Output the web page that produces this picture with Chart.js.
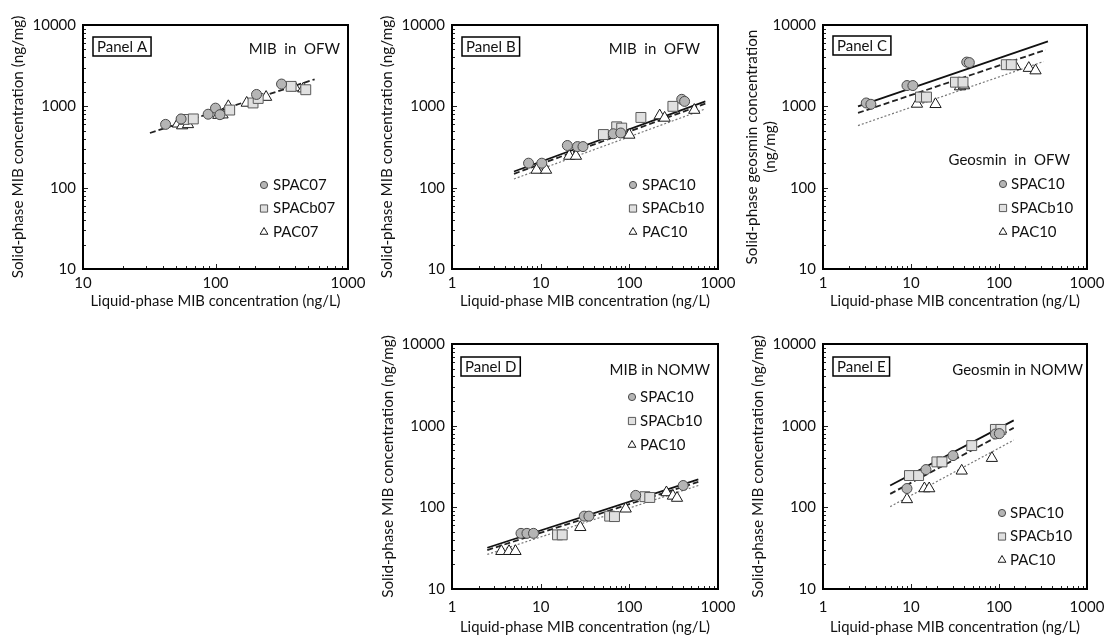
<!DOCTYPE html>
<html><head><meta charset="utf-8">
<script src="https://cdn.jsdelivr.net/npm/chart.js@4.4.1/dist/chart.umd.min.js"></script>
<style>
html,body{margin:0;padding:0;background:#fff;}
body{width:1104px;height:637px;overflow:hidden;position:relative;}
canvas{position:absolute;}
</style></head><body>
<canvas id="cA"></canvas><canvas id="cB"></canvas><canvas id="cC"></canvas><canvas id="cD"></canvas><canvas id="cE"></canvas>
<script>
// ---------- DATA ----------
const xTitle = 'Liquid-phase MIB concentration (ng/L)';
const yTitleMIB = 'Solid-phase MIB concentration (ng/mg)';
const yTitleGeo = ['Solid-phase geosmin concentration', '(ng/mg)'];

// Panel A  (MIB in OFW)
const A_SPAC07  = [[42,600],[55,700],[88,800],[100,950],[108,790],[204,1400],[315,1880]];
const A_SPACb07 = [[58,690],[68,700],[128,900],[192,1100],[210,1250],[372,1760],[480,1600]];
const A_PAC07   = [[52,610],[56,580],[62,600],[105,780],[113,790],[125,1000],[172,1100],[241,1300],[398,1700],[460,1650]];
const A_fit     = [[32,470],[560,2150]];

// Panel B  (MIB in OFW)
const B_SPAC10  = [[7.3,200],[10.3,200],[20,330],[26,320],[30,320],[66,460],[80,470],[390,1220],[420,1150]];
const B_SPACb10 = [[51,450],[72,560],[82,540],[135,730],[310,1000]];
const B_PAC10   = [[9,165],[11.5,165],[21,245],[25,245],[88,455],[100,445],[220,770],[250,720],[540,900]];
const B_fitSPAC10  = [[5,158],[720,1150]];
const B_fitSPACb10 = [[5,148],[720,1080]];
const B_fitPAC10   = [[5,128],[720,930]];

// Panel C  (Geosmin in OFW)
const C_SPAC10  = [[3.1,1100],[3.5,1060],[9,1800],[10.5,1800],[43,3500],[46,3450]];
const C_SPACb10 = [[12.8,1300],[15,1300],[32,1980],[39,1980],[121,3250],[138,3250]];
const C_PAC10   = [[11.7,1070],[19,1060],[36,1750],[40,1800],[153,3100],[218,2950],[260,2750]];
const C_fitSPAC10  = [[2.5,1000],[360,6300]];
const C_fitSPACb10 = [[2.5,830],[340,4950]];
const C_fitPAC10   = [[2.5,580],[320,3550]];

// Panel D  (MIB in NOMW)
const D_SPAC10  = [[6,48],[7,48],[8.3,48],[31,78],[35,78],[118,140],[405,185]];
const D_SPACb10 = [[15.5,46],[17.5,46],[60,78],[68,77],[150,135],[170,132]];
const D_PAC10   = [[3.6,29],[4.4,29],[5.2,29],[28,57],[91,96],[262,152],[310,138],[345,130]];
const D_fitSPAC10  = [[2.5,32],[600,220]];
const D_fitSPACb10 = [[2.5,30],[600,205]];
const D_fitPAC10   = [[2.5,26.5],[600,185]];

// Panel E  (Geosmin in NOMW)
const E_SPAC10  = [[9,170],[14.8,290],[30,430],[91,790],[101,800]];
const E_SPACb10 = [[9.6,245],[12.2,245],[19.7,360],[22.5,360],[49,570],[91,900],[105,900]];
const E_PAC10   = [[9,125],[14.2,170],[16.1,170],[37.7,280],[83,400]];
const E_fitSPAC10  = [[5.8,185],[147,1160]];
const E_fitSPACb10 = [[5.8,146],[147,940]];
const E_fitPAC10   = [[5.8,102],[147,665]];

// ---------- STYLE ----------
const FONT = 'Lato, "Liberation Sans", "DejaVu Sans", sans-serif';
Chart.defaults.font.family = FONT;
Chart.defaults.color = '#111';

const MK = {
  c: {pointStyle:'circle',   radius:5,   bg:'#b5b5b5', bd:'#4a4a4a'},
  s: {pointStyle:'rect',     radius:7,   bg:'#e0e0e0', bd:'#5a5a5a'},
  t: {pointStyle:'triangle', radius:6.5, bg:'#ffffff', bd:'#1a1a1a'}
};
const LN = {
  solid:  {color:'#111', width:1.8, dash:[]},
  dashed: {color:'#222', width:1.8, dash:[6,3]},
  dotted: {color:'#777', width:1.2, dash:[2,2]}
};

const pts = a => a.map(p => ({x:p[0], y:p[1]}));
const isDecade = v => { const l = Math.log10(v); return Math.abs(l - Math.round(l)) < 1e-6; };

function drawMarker(ctx, kind, x, y, small) {
  const m = MK[kind];
  ctx.save();
  ctx.lineWidth = 1;
  ctx.fillStyle = m.bg; ctx.strokeStyle = m.bd;
  ctx.beginPath();
  if (kind === 'c') { ctx.arc(x, y, small ? 3.6 : m.radius, 0, Math.PI*2); }
  else if (kind === 's') { const h = small ? 3.6 : 5; ctx.rect(x-h, y-h, 2*h, 2*h); }
  else { const r = small ? 4.5 : m.radius; ctx.moveTo(x, y-r); ctx.lineTo(x+r*0.866, y+r*0.5); ctx.lineTo(x-r*0.866, y+r*0.5); ctx.closePath(); }
  ctx.fill(); ctx.stroke();
  ctx.restore();
}

const decor = {
  id: 'decor',
  afterDatasetsDraw(chart, args, o) {
    const ctx = chart.ctx, ca = chart.chartArea;
    const xs = chart.scales.x, ys = chart.scales.y;
    ctx.save();
    // inward tick marks
    ctx.strokeStyle = '#222'; ctx.lineWidth = 1;
    xs.ticks.forEach(t => {
      const px = Math.round(xs.getPixelForValue(t.value)) + 0.5;
      const len = isDecade(t.value) ? 5 : 3;
      ctx.beginPath(); ctx.moveTo(px, ca.bottom); ctx.lineTo(px, ca.bottom - len); ctx.stroke();
    });
    ys.ticks.forEach(t => {
      const py = Math.round(ys.getPixelForValue(t.value)) + 0.5;
      const len = isDecade(t.value) ? 5 : 3;
      ctx.beginPath(); ctx.moveTo(ca.left, py); ctx.lineTo(ca.left + len, py); ctx.stroke();
    });
    // frame
    ctx.strokeStyle = '#000'; ctx.lineWidth = 2;
    ctx.strokeRect(ca.left, ca.top, ca.right - ca.left, ca.bottom - ca.top);
    // panel label box
    ctx.font = '15px ' + FONT; ctx.fillStyle = '#111'; ctx.textBaseline = 'middle';
    const tw = ctx.measureText(o.panel).width;
    const bx = ca.left + o.boxDx, by = ca.top + o.boxDy;
    ctx.lineWidth = 1.5;
    ctx.strokeRect(bx, by, tw + 8, 19);
    ctx.textAlign = 'left';
    ctx.fillText(o.panel, bx + 4, by + 10);
    // note text
    ctx.textAlign = 'right';
    ctx.fillText(o.note, ca.right - o.noteDx, ca.top + o.noteDy);
    // legend
    ctx.textAlign = 'left';
    o.legend.forEach((it, i) => {
      const y = ca.top + o.legDy + i * o.legStep;
      drawMarker(ctx, it[0], ca.right - o.legMx, y, true);
      ctx.fillStyle = '#111';
      ctx.fillText(it[1], ca.right - o.legTx, y);
    });
    ctx.restore();
  }
};

function scatterDs(arr, kind) {
  const m = MK[kind];
  return {data: pts(arr), pointStyle: m.pointStyle, pointRadius: m.radius,
          pointBackgroundColor: m.bg, pointBorderColor: m.bd, pointBorderWidth: 1,
          showLine: false, order: 1};
}
function lineDs(arr, style) {
  const s = LN[style];
  return {data: pts(arr), showLine: true, pointRadius: 0, borderColor: s.color,
          borderWidth: s.width, borderDash: s.dash, fill: false, order: 5};
}

function makePanel(id, g, xMin, yTitle, datasets, deco) {
  const cv = document.getElementById(id);
  const w = (g.r - g.l) + 140, h = 40 + (g.b - g.t) + g.hx + 5;
  cv.width = w; cv.height = h;
  cv.style.left = (g.l - 100) + 'px'; cv.style.top = (g.t - 40) + 'px';
  cv.style.width = w + 'px'; cv.style.height = h + 'px';
  new Chart(cv, {
    type: 'scatter',
    data: {datasets},
    options: {
      responsive: false, animation: false, devicePixelRatio: 1,
      layout: {padding: {left: 100 - g.wy, top: 40, right: 40, bottom: 5}},
      plugins: {legend: {display: false}, tooltip: {enabled: false}, decor: deco},
      scales: {
        x: {type: 'logarithmic', min: xMin, max: 1000,
            grid: {display: false, drawTicks: false}, border: {display: false},
            ticks: {autoSkip: false, maxRotation: 0, padding: g.xpad, font: {size: 15},
                    callback: v => isDecade(v) ? String(Math.round(v)) : ''},
            title: {display: true, text: xTitle, font: {size: 14.8}, padding: {top: 0, bottom: 0}},
            afterFit: s => { s.height = g.hx; }},
        y: {type: 'logarithmic', min: 10, max: 10000,
            grid: {display: false, drawTicks: false}, border: {display: false},
            ticks: {autoSkip: false, padding: 7, font: {size: 15},
                    callback: v => isDecade(v) ? String(Math.round(v)) : ''},
            title: {display: true, text: yTitle, font: {size: 15.3}, padding: {top: 3, bottom: 0}},
            afterFit: s => { s.width = g.wy; }}
      }
    },
    plugins: [decor]
  });
}

makePanel('cA', {l:83, t:25, r:348, b:269, wy:77, hx:41, xpad:5}, 10, yTitleMIB,
  [scatterDs(A_SPAC07,'c'), scatterDs(A_SPACb07,'s'), scatterDs(A_PAC07,'t'), lineDs(A_fit,'dashed')],
  {panel:'Panel A', boxDx:10, boxDy:12, note:'MIB  in  OFW', noteDx:8, noteDy:24,
   legend:[['c','SPAC07'],['s','SPACb07'],['t','PAC07']], legMx:84, legTx:75, legDy:160, legStep:23.5});

makePanel('cB', {l:452, t:25, r:718, b:269, wy:77, hx:41, xpad:5}, 1, yTitleMIB,
  [scatterDs(B_SPAC10,'c'), scatterDs(B_SPACb10,'s'), scatterDs(B_PAC10,'t'),
   lineDs(B_fitSPAC10,'solid'), lineDs(B_fitSPACb10,'dashed'), lineDs(B_fitPAC10,'dotted')],
  {panel:'Panel B', boxDx:10, boxDy:12, note:'MIB  in  OFW', noteDx:18, noteDy:24,
   legend:[['c','SPAC10'],['s','SPACb10'],['t','PAC10']], legMx:85, legTx:76, legDy:160, legStep:23.5});

makePanel('cC', {l:823, t:25, r:1087, b:269, wy:83, hx:41, xpad:5}, 1, yTitleGeo,
  [scatterDs(C_SPAC10,'c'), scatterDs(C_SPACb10,'s'), scatterDs(C_PAC10,'t'),
   lineDs(C_fitSPAC10,'solid'), lineDs(C_fitSPACb10,'dashed'), lineDs(C_fitPAC10,'dotted')],
  {panel:'Panel C', boxDx:10, boxDy:11, note:'Geosmin  in  OFW', noteDx:17, noteDy:135,
   legend:[['c','SPAC10'],['s','SPACb10'],['t','PAC10']], legMx:84, legTx:76, legDy:159, legStep:24});

makePanel('cD', {l:452, t:344, r:718, b:589, wy:76, hx:47, xpad:9}, 1, yTitleMIB,
  [scatterDs(D_SPAC10,'c'), scatterDs(D_SPACb10,'s'), scatterDs(D_PAC10,'t'),
   lineDs(D_fitSPAC10,'solid'), lineDs(D_fitSPACb10,'dashed'), lineDs(D_fitPAC10,'dotted')],
  {panel:'Panel D', boxDx:9, boxDy:13, note:'MIB in NOMW', noteDx:8, noteDy:26,
   legend:[['c','SPAC10'],['s','SPACb10'],['t','PAC10']], legMx:86, legTx:78, legDy:53, legStep:24});

makePanel('cE', {l:823, t:344, r:1087, b:589, wy:77, hx:47, xpad:9}, 1, yTitleMIB,
  [scatterDs(E_SPAC10,'c'), scatterDs(E_SPACb10,'s'), scatterDs(E_PAC10,'t'),
   lineDs(E_fitSPAC10,'solid'), lineDs(E_fitSPACb10,'dashed'), lineDs(E_fitPAC10,'dotted')],
  {panel:'Panel E', boxDx:10, boxDy:13, note:'Geosmin in NOMW', noteDx:4, noteDy:26,
   legend:[['c','SPAC10'],['s','SPACb10'],['t','PAC10']], legMx:85, legTx:77, legDy:169, legStep:23.5});
</script>
</body></html>
